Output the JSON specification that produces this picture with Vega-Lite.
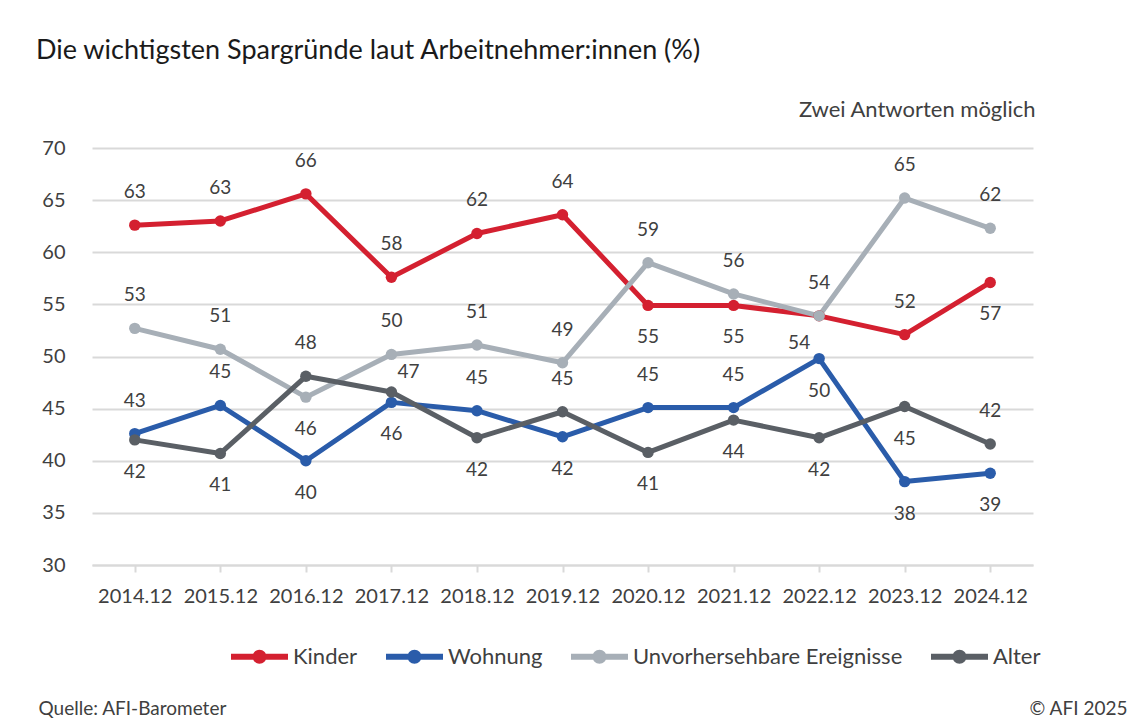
{
  "$schema": "https://vega.github.io/schema/vega-lite/v6.json",
  "width": 941,
  "height": 417,
  "autosize": {"type": "none"},
  "padding": {"left": 92, "top": 148, "right": 98, "bottom": 162},
  "background": "white",
  "config": {
    "font": "Lato",
    "view": {"stroke": null},
    "text": {"font": "Lato"}
  },
  "title": {
    "text": "Die wichtigsten Spargründe laut Arbeitnehmer:innen (%)",
    "anchor": "start",
    "frame": "group",
    "dx": -56,
    "offset": 33,
    "fontSize": 27,
    "fontWeight": "normal",
    "color": "#1a1a1a",
    "font": "Lato"
  },
  "data": {
    "values": [
      {"s": "Kinder", "t": "2014.12", "v": 62.6, "p": "above"},
      {"s": "Kinder", "t": "2015.12", "v": 63.0, "p": "above"},
      {"s": "Kinder", "t": "2016.12", "v": 65.6, "p": "above"},
      {"s": "Kinder", "t": "2017.12", "v": 57.6, "p": "above"},
      {"s": "Kinder", "t": "2018.12", "v": 61.8, "p": "above"},
      {"s": "Kinder", "t": "2019.12", "v": 63.6, "p": "above"},
      {"s": "Kinder", "t": "2020.12", "v": 54.9, "p": "below"},
      {"s": "Kinder", "t": "2021.12", "v": 54.9, "p": "below"},
      {"s": "Kinder", "t": "2022.12", "v": 53.9, "p": "belowleft"},
      {"s": "Kinder", "t": "2023.12", "v": 52.1, "p": "above"},
      {"s": "Kinder", "t": "2024.12", "v": 57.1, "p": "below"},
      {"s": "Wohnung", "t": "2014.12", "v": 42.6, "p": "above"},
      {"s": "Wohnung", "t": "2015.12", "v": 45.3, "p": "above"},
      {"s": "Wohnung", "t": "2016.12", "v": 40.0, "p": "below"},
      {"s": "Wohnung", "t": "2017.12", "v": 45.6, "p": "below"},
      {"s": "Wohnung", "t": "2018.12", "v": 44.8, "p": "above"},
      {"s": "Wohnung", "t": "2019.12", "v": 42.3, "p": "below"},
      {"s": "Wohnung", "t": "2020.12", "v": 45.1, "p": "above"},
      {"s": "Wohnung", "t": "2021.12", "v": 45.1, "p": "above"},
      {"s": "Wohnung", "t": "2022.12", "v": 49.8, "p": "below"},
      {"s": "Wohnung", "t": "2023.12", "v": 38.0, "p": "below"},
      {"s": "Wohnung", "t": "2024.12", "v": 38.8, "p": "below"},
      {"s": "Unvorhersehbare Ereignisse", "t": "2014.12", "v": 52.7, "p": "above"},
      {"s": "Unvorhersehbare Ereignisse", "t": "2015.12", "v": 50.7, "p": "above"},
      {"s": "Unvorhersehbare Ereignisse", "t": "2016.12", "v": 46.1, "p": "below"},
      {"s": "Unvorhersehbare Ereignisse", "t": "2017.12", "v": 50.2, "p": "above"},
      {"s": "Unvorhersehbare Ereignisse", "t": "2018.12", "v": 51.1, "p": "above"},
      {"s": "Unvorhersehbare Ereignisse", "t": "2019.12", "v": 49.4, "p": "above"},
      {"s": "Unvorhersehbare Ereignisse", "t": "2020.12", "v": 59.0, "p": "above"},
      {"s": "Unvorhersehbare Ereignisse", "t": "2021.12", "v": 56.0, "p": "above"},
      {"s": "Unvorhersehbare Ereignisse", "t": "2022.12", "v": 53.9, "p": "above"},
      {"s": "Unvorhersehbare Ereignisse", "t": "2023.12", "v": 65.2, "p": "above"},
      {"s": "Unvorhersehbare Ereignisse", "t": "2024.12", "v": 62.3, "p": "above"},
      {"s": "Alter", "t": "2014.12", "v": 42.0, "p": "below"},
      {"s": "Alter", "t": "2015.12", "v": 40.7, "p": "below"},
      {"s": "Alter", "t": "2016.12", "v": 48.1, "p": "above"},
      {"s": "Alter", "t": "2017.12", "v": 46.6, "p": "aboveright"},
      {"s": "Alter", "t": "2018.12", "v": 42.2, "p": "below"},
      {"s": "Alter", "t": "2019.12", "v": 44.7, "p": "above"},
      {"s": "Alter", "t": "2020.12", "v": 40.8, "p": "below"},
      {"s": "Alter", "t": "2021.12", "v": 43.9, "p": "below"},
      {"s": "Alter", "t": "2022.12", "v": 42.2, "p": "below"},
      {"s": "Alter", "t": "2023.12", "v": 45.2, "p": "below"},
      {"s": "Alter", "t": "2024.12", "v": 41.6, "p": "above"}
    ]
  },
  "encoding": {
    "x": {
      "field": "t",
      "type": "ordinal",
      "scale": {"type": "point", "padding": 0.5},
      "axis": {
        "labelAngle": 0,
        "labelFontSize": 20,
        "labelColor": "#404040",
        "labelPadding": 14,
        "domainColor": "#d9d9d9",
        "domainWidth": 2,
        "tickColor": "#d9d9d9",
        "tickWidth": 2,
        "tickSize": 7,
        "grid": false,
        "title": "Zwei Antworten möglich",
        "titleX": 943,
        "titleY": -456,
        "titleAlign": "right",
        "titleBaseline": "middle",
        "titleFontSize": 22,
        "titleFontWeight": "normal",
        "titleColor": "#404040"
      }
    }
  },
  "resolve": {"axis": {"y": "independent"}},
  "layer": [
    {
      "mark": {"type": "line", "strokeWidth": 5, "strokeJoin": "round", "strokeCap": "round"},
      "encoding": {
        "y": {
          "field": "v",
          "type": "quantitative",
          "scale": {"domain": [30, 70], "nice": false},
          "axis": {
            "values": [30, 35, 40, 45, 50, 55, 60, 65, 70],
            "grid": true,
            "gridColor": "#d9d9d9",
            "gridWidth": 2,
            "domain": false,
            "ticks": false,
            "labelPadding": 27,
            "labelFontSize": 20,
            "labelColor": "#404040",
            "title": "Quelle: AFI-Barometer",
            "titleAngle": 0,
            "titleX": -54,
            "titleY": 560,
            "titleAlign": "left",
            "titleBaseline": "middle",
            "titleFontSize": 19,
            "titleFontWeight": "normal",
            "titleColor": "#404040"
          }
        },
        "color": {
          "field": "s",
          "type": "nominal",
          "scale": {
            "domain": ["Kinder", "Wohnung", "Unvorhersehbare Ereignisse", "Alter"],
            "range": ["#d42030", "#2a5caa", "#a7afb7", "#5a5f65"]
          },
          "legend": {
            "orient": "none",
            "legendX": 139,
            "legendY": 480,
            "direction": "horizontal",
            "title": null,
            "symbolType": "M-1,-0.105L1,-0.105L1,0.105L-1,0.105Z M0.245,0 A0.245,0.245 0 1,1 -0.245,0 A0.245,0.245 0 1,1 0.245,0Z",
            "symbolSize": 3249,
            "symbolStrokeWidth": 0,
            "labelFontSize": 22,
            "labelColor": "#404040",
            "labelOffset": 5,
            "columnPadding": 28,
            "labelLimit": 400,
            "encode": {
              "symbols": {
                "update": {
                  "fill": {"scale": "color", "field": "value"},
                  "strokeWidth": {"value": 0},
                  "opacity": {"value": 1}
                }
              }
            }
          }
        }
      }
    },
    {
      "mark": {"type": "point", "filled": true, "size": 130, "opacity": 1},
      "encoding": {
        "y": {"field": "v", "type": "quantitative", "scale": {"domain": [30, 70], "nice": false}, "axis": null},
        "color": {
          "field": "s",
          "type": "nominal",
          "scale": {
            "domain": ["Kinder", "Wohnung", "Unvorhersehbare Ereignisse", "Alter"],
            "range": ["#d42030", "#2a5caa", "#a7afb7", "#5a5f65"]
          },
          "legend": {
            "orient": "none",
            "legendX": 139,
            "legendY": 480,
            "direction": "horizontal",
            "title": null,
            "symbolType": "M-1,-0.105L1,-0.105L1,0.105L-1,0.105Z M0.245,0 A0.245,0.245 0 1,1 -0.245,0 A0.245,0.245 0 1,1 0.245,0Z",
            "symbolSize": 3249,
            "symbolStrokeWidth": 0,
            "labelFontSize": 22,
            "labelColor": "#404040",
            "labelOffset": 5,
            "columnPadding": 28,
            "labelLimit": 400,
            "encode": {
              "symbols": {
                "update": {
                  "fill": {"scale": "color", "field": "value"},
                  "strokeWidth": {"value": 0},
                  "opacity": {"value": 1}
                }
              }
            }
          }
        }
      }
    },
    {
      "transform": [{"filter": "datum.p === 'above'"}],
      "mark": {"type": "text", "dy": -33, "fontSize": 19, "color": "#404040", "baseline": "middle", "align": "center"},
      "encoding": {
        "y": {"field": "v", "type": "quantitative", "scale": {"domain": [30, 70], "nice": false}, "axis": null},
        "text": {"field": "v", "type": "quantitative", "format": ".0f"}
      }
    },
    {
      "transform": [{"filter": "datum.p === 'below'"}],
      "mark": {"type": "text", "dy": 32, "fontSize": 19, "color": "#404040", "baseline": "middle", "align": "center"},
      "encoding": {
        "y": {"field": "v", "type": "quantitative", "scale": {"domain": [30, 70], "nice": false}, "axis": null},
        "text": {"field": "v", "type": "quantitative", "format": ".0f"}
      }
    },
    {
      "transform": [{"filter": "datum.p === 'belowleft'"}],
      "mark": {"type": "text", "dx": -20, "dy": 27, "fontSize": 19, "color": "#404040", "baseline": "middle", "align": "center"},
      "encoding": {
        "y": {"field": "v", "type": "quantitative", "scale": {"domain": [30, 70], "nice": false}, "axis": null},
        "text": {"field": "v", "type": "quantitative", "format": ".0f"}
      }
    },
    {
      "transform": [{"filter": "datum.p === 'aboveright'"}],
      "mark": {"type": "text", "dx": 17, "dy": -20, "fontSize": 19, "color": "#404040", "baseline": "middle", "align": "center"},
      "encoding": {
        "y": {
          "field": "v",
          "type": "quantitative",
          "scale": {"domain": [30, 70], "nice": false},
          "axis": {
            "orient": "right",
            "labels": false,
            "ticks": false,
            "domain": false,
            "grid": false,
            "title": "© AFI 2025",
            "titleAngle": 0,
            "titleX": 94,
            "titleY": 560,
            "titleAlign": "right",
            "titleBaseline": "middle",
            "titleFontSize": 19,
            "titleFontWeight": "normal",
            "titleColor": "#404040"
          }
        },
        "text": {"field": "v", "type": "quantitative", "format": ".0f"}
      }
    }
  ]
}
